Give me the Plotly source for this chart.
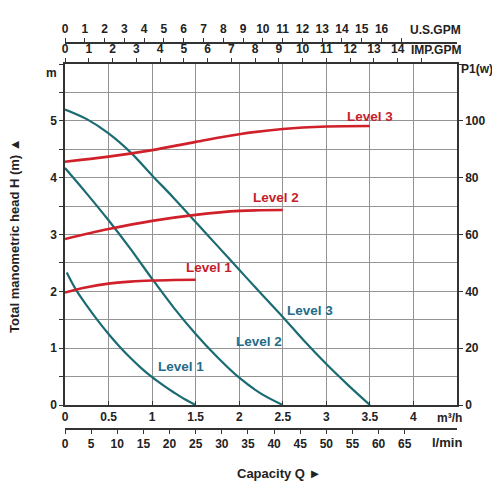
import plotly.graph_objects as go

# flow in m3/h
q_l1 = [0.02, 0.125, 0.25, 0.375, 0.5, 0.625, 0.75, 0.875, 1.0, 1.125, 1.25, 1.375, 1.5]
h_l1 = [2.33, 2.03, 1.75, 1.49, 1.25, 1.03, 0.83, 0.65, 0.49, 0.35, 0.22, 0.1, 0.0]

q_l2 = [0.0, 0.25, 0.5, 0.75, 1.0, 1.25, 1.5, 1.75, 2.0, 2.25, 2.5]
h_l2 = [4.17, 3.72, 3.25, 2.75, 2.22, 1.71, 1.25, 0.84, 0.48, 0.2, 0.0]

q_l3 = [0.0, 0.25, 0.5, 0.75, 1.0, 1.25, 1.5, 1.75, 2.0, 2.25, 2.5, 2.75, 3.0, 3.25, 3.5]
h_l3 = [5.2, 5.03, 4.78, 4.45, 4.04, 3.64, 3.22, 2.8, 2.38, 1.96, 1.55, 1.12, 0.72, 0.35, 0.0]

# power P1 (W)
qp_l1 = [0.0, 0.25, 0.5, 0.75, 1.0, 1.25, 1.5]
p_l1 = [39.6, 41.4, 42.7, 43.4, 43.8, 44.0, 44.1]

qp_l2 = [0.0, 0.5, 1.0, 1.5, 2.0, 2.5]
p_l2 = [58.4, 61.9, 64.8, 66.9, 68.3, 68.6]

qp_l3 = [0.0, 0.5, 1.0, 1.5, 2.0, 2.5, 3.0, 3.5]
p_l3 = [85.6, 87.4, 89.7, 92.6, 95.3, 97.1, 98.0, 98.2]

# axis ticks
m3h_ticks = [0, 0.5, 1, 1.5, 2, 2.5, 3, 3.5, 4, 4.5]
m3h_text = ['0', '0.5', '1', '1.5', '2', '2.5', '3', '3.5', '4', '']
lmin_ticks = list(range(0, 70, 5))
usgpm_ticks = list(range(0, 18))
usgpm_text = [str(v) for v in range(0, 17)] + ['']
impgpm_ticks = list(range(0, 16))
impgpm_text = [str(v) for v in range(0, 15)] + ['']
h_ticks = [v * 0.5 for v in range(0, 13)]
h_text = [str(int(v)) if v == int(v) and v <= 5 else '' for v in h_ticks]
p_ticks = [0, 20, 40, 60, 80, 100, 120]
p_text = ['0', '20', '40', '60', '80', '100', '']

TEAL = '#1b6b73'
TEAL_TXT = '#236c8a'
RED = '#d0202a'
RED_TXT = '#c41e2a'
AX = '#333333'
GRID = '#949494'
FONT = 'Liberation Sans, Arial, sans-serif'
tickf = dict(family=FONT, size=12, color='#222', weight='bold')

fig = go.Figure()

for q, h in [(q_l1, h_l1), (q_l2, h_l2), (q_l3, h_l3)]:
    fig.add_trace(go.Scatter(x=q, y=h, mode='lines', line=dict(color=TEAL, width=2.2, shape='spline'),
                             xaxis='x', yaxis='y', showlegend=False, hoverinfo='skip'))

for q, p in [(qp_l1, p_l1), (qp_l2, p_l2), (qp_l3, p_l3)]:
    fig.add_trace(go.Scatter(x=q, y=p, mode='lines', line=dict(color=RED, width=2.6, shape='spline'),
                             xaxis='x', yaxis='y2', showlegend=False, hoverinfo='skip'))

# paper spans screen y 20..460, x 64..456 (page has ~7px offset)
ydom = [(460 - 404) / 440, (460 - 63) / 440]

fig.update_layout(
    width=500, height=500,
    margin=dict(l=57, r=51, t=13, b=47),
    paper_bgcolor='white', plot_bgcolor='white',
    font=dict(family=FONT),
    xaxis=dict(range=[0, 4.5], tickvals=m3h_ticks, ticktext=m3h_text, tickfont=tickf,
               showgrid=True, gridcolor=GRID, gridwidth=1, showline=True, linecolor=AX, linewidth=1.5,
               ticks='inside', ticklen=4, tickcolor=AX, zeroline=False, fixedrange=True),
    xaxis2=dict(range=[0, 75], overlaying='x', anchor='free', position=(460 - 428) / 440, side='bottom',
                tickvals=lmin_ticks, tickfont=tickf, showgrid=False, showline=True, linecolor=AX,
                linewidth=1.5, ticks='outside', ticklen=4, tickcolor=AX, zeroline=False),
    xaxis3=dict(range=[0, 4.5 / 0.272765], overlaying='x', anchor='y', side='top',
                tickvals=impgpm_ticks, ticktext=impgpm_text, tickfont=tickf, showgrid=False,
                showline=True, linecolor=AX, linewidth=1.5, ticks='outside', ticklen=4, tickcolor=AX,
                zeroline=False),
    xaxis4=dict(range=[0, 4.5 / 0.227125], overlaying='x', anchor='free', position=(460 - 42) / 440,
                side='top', tickvals=usgpm_ticks, ticktext=usgpm_text, tickfont=tickf, showgrid=False,
                showline=True, linecolor=AX, linewidth=1.5, ticks='outside', ticklen=4, tickcolor=AX,
                zeroline=False),
    yaxis=dict(range=[0, 6], domain=ydom, tickvals=h_ticks, ticktext=h_text, tickfont=tickf,
               showgrid=True, gridcolor=GRID, gridwidth=1, showline=True, linecolor=AX, linewidth=1.5,
               ticks='outside', ticklen=4, tickcolor=AX, zeroline=False),
    yaxis2=dict(range=[0, 120], overlaying='y', side='right', tickvals=p_ticks, ticktext=p_text,
                tickfont=tickf, showgrid=False, showline=True, linecolor=AX, linewidth=1.5,
                ticks='outside', ticklen=4, tickcolor=AX, zeroline=False),
)

# dummy traces so the extra axes are drawn
for ax in ['x2', 'x3', 'x4']:
    fig.add_trace(go.Scatter(x=[None], y=[None], xaxis=ax, yaxis='y', showlegend=False, hoverinfo='skip'))

lbl = dict(family=FONT, size=13.5, weight='bold')
curve_labels = [
    (1.33, 0.67, 'y', TEAL_TXT), (2.23, 1.12, 'y', TEAL_TXT), (2.81, 1.67, 'y', TEAL_TXT),
    (1.65, 48.4, 'y2', RED_TXT), (2.42, 73.0, 'y2', RED_TXT), (3.5, 101.4, 'y2', RED_TXT),
]
names = ['Level 1', 'Level 2', 'Level 3', 'Level 1', 'Level 2', 'Level 3']
for (x, y, yr, c), n in zip(curve_labels, names):
    fig.add_annotation(x=x, y=y, xref='x', yref=yr, text=n, showarrow=False,
                       xanchor='center', yanchor='middle', font=dict(lbl, color=c))

unit = dict(family=FONT, size=12, color='#222', weight='bold')


def note(px, py, text, anchor='center', size=12, angle=0):
    fig.add_annotation(x=(px - 64) / 392, y=(460 - py) / 440, xref='paper', yref='paper', text=text,
                       xanchor=anchor, yanchor='middle', showarrow=False, textangle=angle,
                       font=dict(unit, size=size))


note(462, 29, 'U.S.GPM', 'right')
note(462, 49, 'IMP.GPM', 'right')
note(463, 417, 'm³/h', 'right')
note(463, 441, 'l/min', 'right', 13)
note(50, 72, 'm')
note(476, 68, 'P1(w)')
note(278, 472, 'Capacity Q ►', size=13)
note(13, 235, 'Total manometric head H (m) ▲', size=13, angle=-90)

fig.write_html("out.html")
